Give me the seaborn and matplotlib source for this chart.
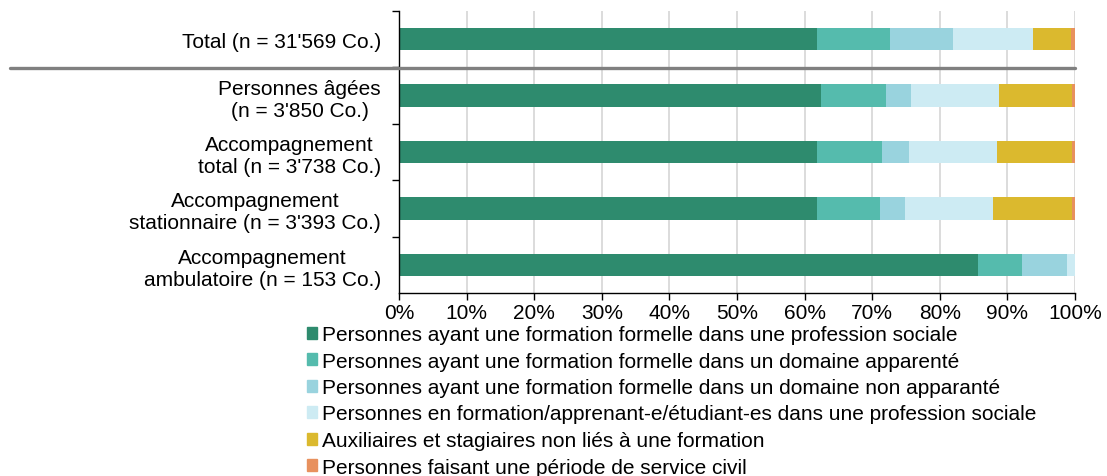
"""
Stacked horizontal bars: staff composition by qualification, per field.
Writes: out.png
"""
import matplotlib.pyplot as plt
import matplotlib.patches as mpatches
import matplotlib.lines as mlines
import pandas as pd
import seaborn as sns

CATEGORIES = [
    "Total (n = 31'569 Co.)",
    "Personnes âgées\n(n = 3'850 Co.)",
    "Accompagnement\ntotal (n = 3'738 Co.)",
    "Accompagnement\nstationnaire (n = 3'393 Co.)",
    "Accompagnement\nambulatoire (n = 153 Co.)",
]

SERIES = [
    "Personnes ayant une formation formelle dans une profession sociale",
    "Personnes ayant une formation formelle dans un domaine apparenté",
    "Personnes ayant une formation formelle dans un domaine non apparanté",
    "Personnes en formation/apprenant-e/étudiant-es dans une profession sociale",
    "Auxiliaires et stagiaires non liés à une formation",
    "Personnes faisant une période de service civil",
]

# shares in %, one list per series, in CATEGORIES order
PROF_SOCIALE = [61.9, 62.4, 61.8, 61.9, 85.7]
DOMAINE_APPARENTE = [10.8, 9.7, 9.7, 9.2, 6.5]
DOMAINE_NON_APPARENTE = [9.2, 3.7, 3.9, 3.8, 6.6]
EN_FORMATION = [11.9, 12.9, 13.1, 13.0, 1.2]
AUXILIAIRES = [5.6, 10.9, 11.0, 11.7, 0.0]
SERVICE_CIVIL = [0.6, 0.4, 0.5, 0.4, 0.0]

COLORS = ["#2e8b6e", "#55bbad", "#99d3de", "#cdebf3", "#dbb92e", "#e8915e"]

X_TICKS = list(range(0, 101, 10))
X_TICK_LABELS = [f"{t}%" for t in X_TICKS]

FONT_SIZE = 15

sns.set_style("white")
plt.rcParams["font.family"] = ["Liberation Sans", "DejaVu Sans"]
plt.rcParams["text.color"] = "black"
plt.rcParams["xtick.color"] = "black"
plt.rcParams["ytick.color"] = "black"

df = pd.DataFrame(
    [PROF_SOCIALE, DOMAINE_APPARENTE, DOMAINE_NON_APPARENTE,
     EN_FORMATION, AUXILIAIRES, SERVICE_CIVIL],
    index=SERIES, columns=CATEGORIES,
).T
cum = df.cumsum(axis=1)

fig = plt.figure(figsize=(11.07, 4.77), dpi=100)
ax = fig.add_axes([399 / 1107, 1 - 294 / 477, 676 / 1107, 282 / 477])

# overlay cumulative bars, widest first
for i in range(len(SERIES) - 1, -1, -1):
    sns.barplot(
        x=cum.iloc[:, i].values, y=CATEGORIES, order=CATEGORIES,
        orient="h", color=COLORS[i], saturation=1, width=0.4,
        errorbar=None, linewidth=0, ax=ax,
    )

ax.set_xlim(0, 100)
ax.set_ylim(4.5, -0.5)
ax.set_xlabel("")
ax.set_ylabel("")

ax.set_xticks(X_TICKS)
ax.set_xticklabels(X_TICK_LABELS, fontsize=FONT_SIZE)
ax.set_yticks(range(len(CATEGORIES)))
ax.set_yticklabels(CATEGORIES, fontsize=FONT_SIZE, multialignment="center")
ax.set_yticks([-0.5, 0.5, 1.5, 2.5, 3.5], minor=True)
ax.tick_params(axis="y", which="major", length=0, pad=13)
ax.tick_params(axis="y", which="minor", length=5, width=1, color="black",
               direction="out", left=True)
ax.tick_params(axis="x", length=5, width=1, color="black", direction="out",
               bottom=True, pad=2)

ax.grid(axis="x", color="#d9d9d9", linewidth=1.3)
ax.grid(axis="y", visible=False)
ax.set_axisbelow(True)
for side in ("top", "right"):
    ax.spines[side].set_visible(False)
for side in ("left", "bottom"):
    ax.spines[side].set_color("black")
    ax.spines[side].set_linewidth(1.0)

# separator between the total and the fields
sep = mlines.Line2D([10 / 1107, 1075 / 1107], [1 - 69 / 477, 1 - 69 / 477],
                    transform=fig.transFigure, color="#808080", linewidth=2.4)
fig.add_artist(sep)

handles = [mpatches.Patch(color=c, label=s) for c, s in zip(COLORS, SERIES)]
fig.legend(
    handles=handles, loc="upper left",
    bbox_to_anchor=(307 / 1107, 1 - 326 / 477),
    frameon=False, fontsize=FONT_SIZE, handlelength=0.5, handleheight=0.5,
    handletextpad=0.2, labelspacing=0.36, borderpad=0, borderaxespad=0,
)

fig.savefig("out.png", dpi=100)
